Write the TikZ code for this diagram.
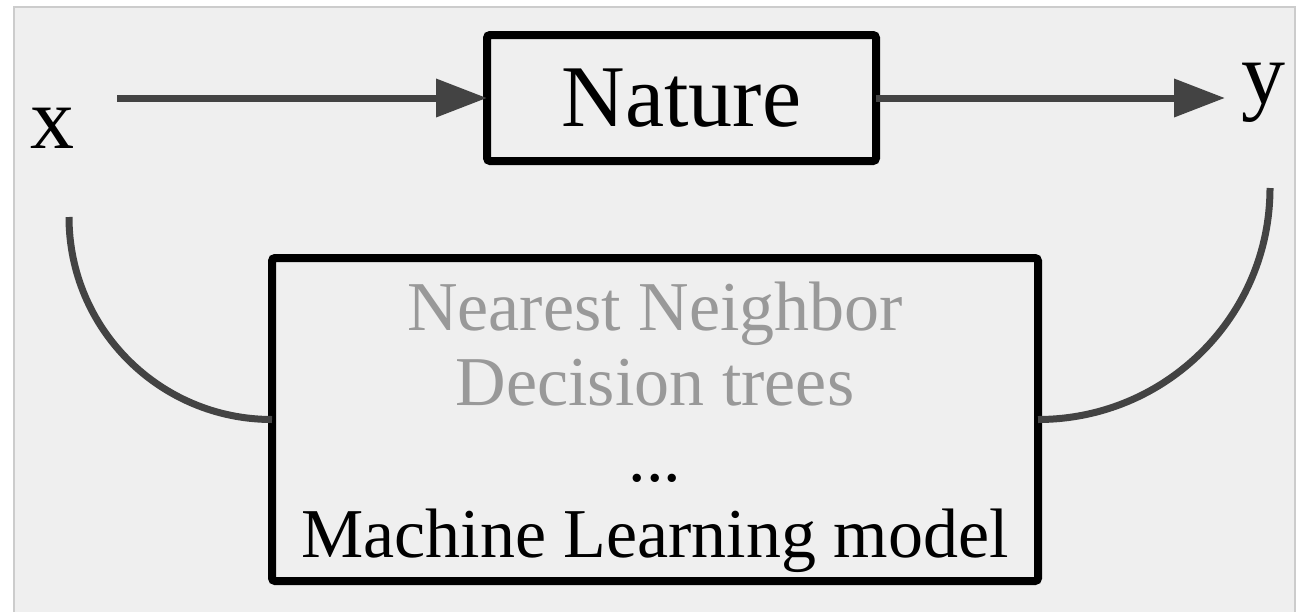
\documentclass[tikz,border=0pt]{standalone}
\usepackage{fontspec}
\setmainfont{Liberation Serif}
\usepackage{xcolor}
\usetikzlibrary{arrows.meta,positioning}
\definecolor{paper}{HTML}{EFEFEF}
\definecolor{framegray}{HTML}{CCCCCC}
\definecolor{wiregray}{HTML}{434343}
\definecolor{faded}{HTML}{999999}

\begin{document}
\begin{tikzpicture}[x=0.5pt,y=-0.5pt,
    box/.style={draw=black,line width=4pt,rounded corners=1.5pt,outer sep=0pt,inner sep=0pt},
    wire/.style={draw=wiregray,line width=3.5pt},
    arr/.style={wire,-{Triangle[length=25.5pt,width=18.5pt]}},
    big/.style={font=\fontsize{44}{52}\selectfont},
    small/.style={font=\fontsize{35}{42}\selectfont}]
            \useasboundingbox (0,0) rectangle (1301,611);
            \fill[paper] (13,6) rectangle (1296,615);
            \draw[framegray,line width=1pt] (14,615) -- (14,7) -- (1295,7) -- (1295,615);
            \node[box,big,minimum width=194.5pt,minimum height=63pt] (nature) at (681.5,98) {Nature};
            \node[box,minimum width=383pt,minimum height=161.5pt] (model) at (655,419.5) {};
            \node[big,anchor=base] (x) at (53,148) {x};
            \node[big,anchor=base] (y) at (1263,103) {y};
            \node[small,faded,anchor=base] (nn) at (655,330) {Nearest Neighbor};
            \node[small,faded,anchor=base] (dt) at (655,405) {Decision trees};
            \node[small,anchor=base] (dots) at (655,481) {...};
            \node[small,anchor=base] (ml) at (655,557) {Machine Learning model};
            \coordinate (xout) at (117,98);
            \coordinate (yin) at (1225,98);
            \coordinate (xdown) at (69,217);
            \coordinate (ydown) at (1270,188);
            \draw[arr] (xout) -- (nature.west);
            \draw[arr] (nature.east) -- (yin);
            \draw[wire] (xdown) .. controls +(0,112) and +(-112,0) .. (model.west);
            \draw[wire] (ydown) .. controls +(0,128) and +(128,0) .. (model.east);
        \end{tikzpicture}
\end{document}
